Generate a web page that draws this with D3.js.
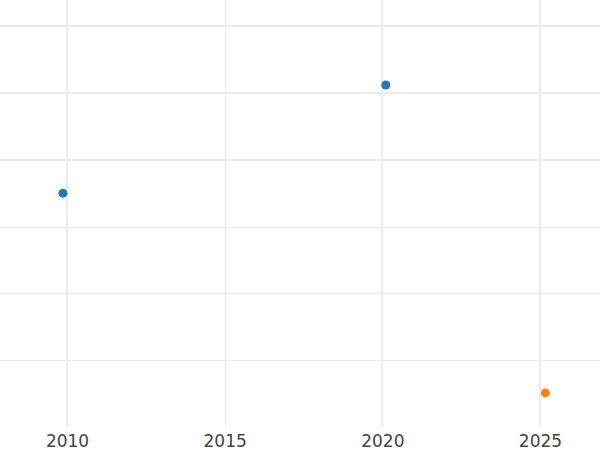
<!DOCTYPE html>
<html>
<head>
<meta charset="utf-8">
<script src="https://cdn.jsdelivr.net/npm/d3@7"></script>
<style>
  body { margin: 0; background: #fff; }
  svg { display: block; }
</style>
</head>
<body>
<svg id="chart"></svg>
<script>
var years = [2009.87, 2020.11, 2025.17];
var values = [3.50, 5.12, 0.51];
var groups = ["a", "a", "b"];
var xTicks = [2010, 2015, 2020, 2025];
var yTicks = [1, 2, 3, 4, 5, 6];

var width = 600, height = 450,
    plotBottom = 427;

var xScale = d3.scaleLinear().domain([2007.875, 2026.903]).range([0, width]),
    yScale = d3.scaleLinear().domain([0, 6.392]).range([plotBottom, 0]);

var color = d3.scaleOrdinal().domain(["a", "b"]).range(["#1f77b4", "#ff7f0e"]);

var svg = d3.select('#chart')
    .attr('width', width)
    .attr('height', height);

// horizontal grid
svg.append('g')
    .attr('class', 'ygrid')
  .selectAll('line')
    .data(yTicks)
  .enter().append('line')
    .attr('x1', 0)
    .attr('x2', width)
    .attr('y1', function(d) { return Math.round(yScale(d)); })
    .attr('y2', function(d) { return Math.round(yScale(d)); })
    .attr('stroke', '#ebebeb')
    .attr('stroke-width', function(d) { return d >= 4 ? 2 : 1; })
    .attr('shape-rendering', 'crispEdges');

// vertical grid
svg.append('g')
    .attr('class', 'xgrid')
  .selectAll('line')
    .data(xTicks)
  .enter().append('line')
    .attr('x1', function(d) { return Math.round(xScale(d)); })
    .attr('x2', function(d) { return Math.round(xScale(d)); })
    .attr('y1', 0)
    .attr('y2', plotBottom)
    .attr('stroke', '#ebebeb')
    .attr('stroke-width', function(d) { return d == 2015 ? 1 : 2; })
    .attr('shape-rendering', 'crispEdges');

// x axis labels
var axis = d3.axisBottom(xScale)
    .tickValues(xTicks)
    .tickFormat(d3.format('d'))
    .tickSize(0)
    .tickPadding(0);

var gx = svg.append('g')
    .attr('transform', 'translate(0,' + plotBottom + ')')
    .call(axis);
gx.select('.domain').remove();
gx.selectAll('text')
    .attr('y', 0)
    .attr('dy', '1.15em')
    .attr('fill', '#444')
    .style('font-family', 'DejaVu Sans')
    .style('font-size', '17px');

// points
svg.append('g')
    .attr('class', 'points')
  .selectAll('circle')
    .data(years)
  .enter().append('circle')
    .attr('cx', function(d) { return xScale(d); })
    .attr('cy', function(d, i) { return yScale(values[i]); })
    .attr('r', 4.5)
    .attr('fill', function(d, i) { return color(groups[i]); });
</script>
</body>
</html>
